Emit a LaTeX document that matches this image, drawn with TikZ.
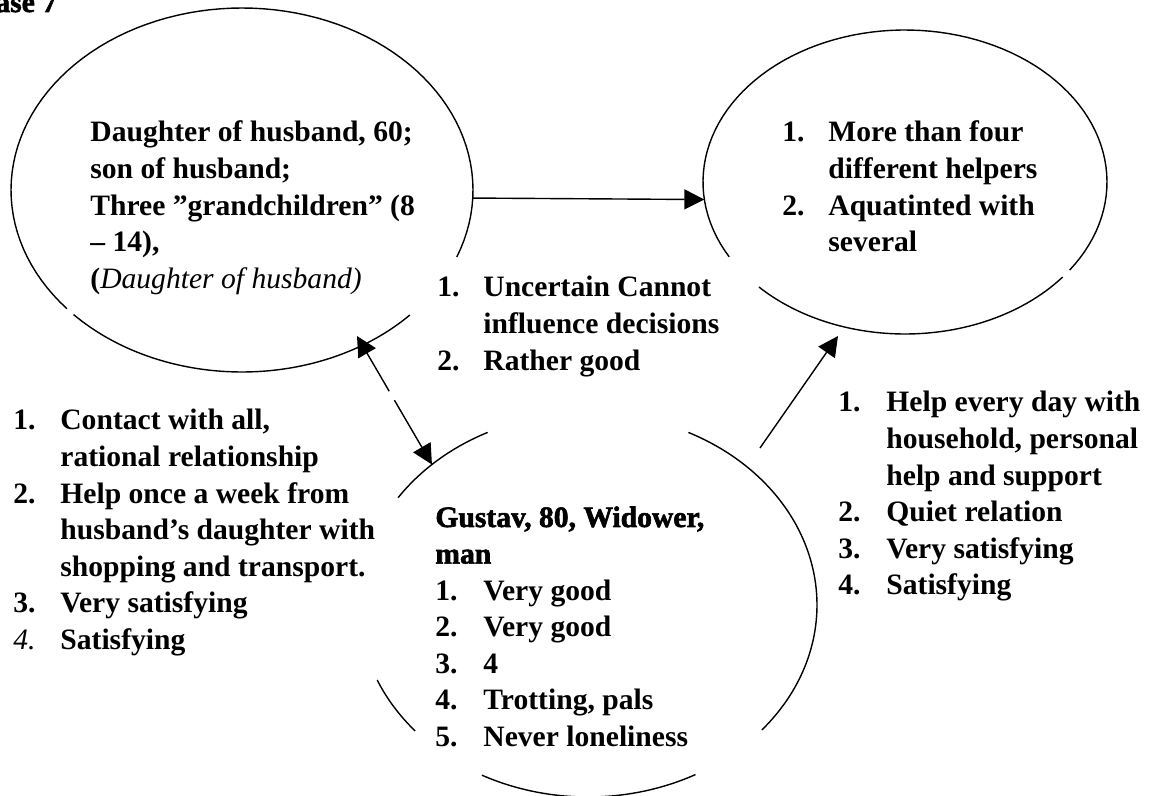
\documentclass[tikz,border=0pt]{standalone}
\usepackage{fontspec}
\setmainfont{Liberation Serif}
\newfontface\heavyface[FakeBold=2]{Liberation Serif Bold}
\usetikzlibrary{arrows.meta,shapes.geometric,calc}
\newcommand\bodysize{\fontsize{14.8}{18.3}\selectfont}
% elliptic arc: centre (#1,#2), radii #3,#4, from angle #5 to #6
\newcommand\ovalarc[6]{\draw[oval] plot[domain=#5:#6,samples=90,variable=\t] ({#1+#3*cos(\t)},{#2-#4*sin(\t)});}
\begin{document}
\begin{tikzpicture}[x=0.5pt,y=-0.5pt,
  oval/.style={line width=0.7pt},
  conn/.style={line width=0.7pt},
  geo/.style={ellipse,inner sep=0pt,outer sep=0pt},
  txt/.style={anchor=base west,inner sep=0pt,font=\bodysize\bfseries,align=left},
  tipend/.style={-{Triangle[length=10pt,width=10pt]}},
  tipstart/.style={{Triangle[length=10pt,width=10pt]}-}]
\useasboundingbox (0,0) rectangle (1152,796);

% ellipse geometry (outlines drawn as arcs below, with breaks)
\node[geo,minimum width=231pt,minimum height=182pt] (L) at (242,190) {};
\node[geo,minimum width=202pt,minimum height=152pt] (R) at (905,182) {};
\node[geo,minimum width=229pt,minimum height=192pt] (G) at (588,605) {};

% family ellipse
\ovalarc{242}{190}{231}{182}{-21.6}{220.7}
\ovalarc{242}{190}{231}{182}{-136.8}{-43.4}
% helpers ellipse
\ovalarc{905}{182}{202}{152}{-35.4}{209.5}
\ovalarc{905}{182}{202}{152}{223.7}{321.3}
% central person ellipse
\ovalarc{588}{605}{229}{192}{-40.6}{64}
\ovalarc{588}{605}{229}{192}{-117.6}{-62}
\ovalarc{588}{605}{229}{192}{-157}{-139}
\ovalarc{588}{605}{229}{192}{116}{146}

% title
\node[txt] (title) at (-5,12) {\heavyface ase 7};

% texts
\node[txt] (famtext) at (90,142) {\begin{tabular}[t]{@{}l@{}}
Daughter of husband, 60;\\
son of husband;\\
Three ”grandchildren” (8\\
– 14),\\
({\mdseries\itshape Daughter of husband)}
\end{tabular}};

\node[txt] (helptext) at (782,142) {\begin{tabular}[t]{@{}p{23pt}@{}l@{}}
1. & More than four\\
   & different helpers\\
2. & Aquatinted with\\
   & several
\end{tabular}};

\node[txt] (decide) at (437,297) {\begin{tabular}[t]{@{}p{23pt}@{}l@{}}
1. & Uncertain Cannot\\
   & influence decisions\\
2. & Rather good
\end{tabular}};

\node[txt] (famrel) at (13,430) {\begin{tabular}[t]{@{}p{23.5pt}@{}l@{}}
1. & Contact with all,\\
   & rational relationship\\
2. & Help once a week from\\
   & husband’s daughter with\\
   & shopping and transport.\\
3. & Very satisfying\\
{\mdseries\itshape 4.} & Satisfying
\end{tabular}};

\node[txt] (person) at (435,527) {\begin{tabular}[t]{@{}p{24pt}@{}l@{}}
\multicolumn{2}{@{}l@{}}{\heavyface Gustav, 80, Widower,}\\
\multicolumn{2}{@{}l@{}}{\heavyface man}\\
1. & Very good\\
2. & Very good\\
3. & 4\\
4. & Trotting, pals\\
5. & Never loneliness
\end{tabular}};

\node[txt] (helprel) at (838,412) {\begin{tabular}[t]{@{}p{24pt}@{}l@{}}
1. & Help every day with\\
   & household, personal\\
   & help and support\\
2. & Quiet relation\\
3. & Very satisfying\\
4. & Satisfying
\end{tabular}};

% connectors
\draw[conn,tipend] (L.-2.5) -- (R.185);

\coordinate (famtip) at (357,336);
\coordinate (brk1) at ($(famtip)!0.43!(G.138.3)$);
\coordinate (brk2) at ($(famtip)!0.50!(G.138.3)$);
\draw[conn,tipstart] (famtip) -- (brk1);
\draw[conn,tipend] (brk2) -- (G.138.3);

\coordinate (helpfoot) at (760,448);
\coordinate (helptip) at (838,336);
\draw[conn,tipend] (helpfoot) -- (helptip);
\end{tikzpicture}
\end{document}
